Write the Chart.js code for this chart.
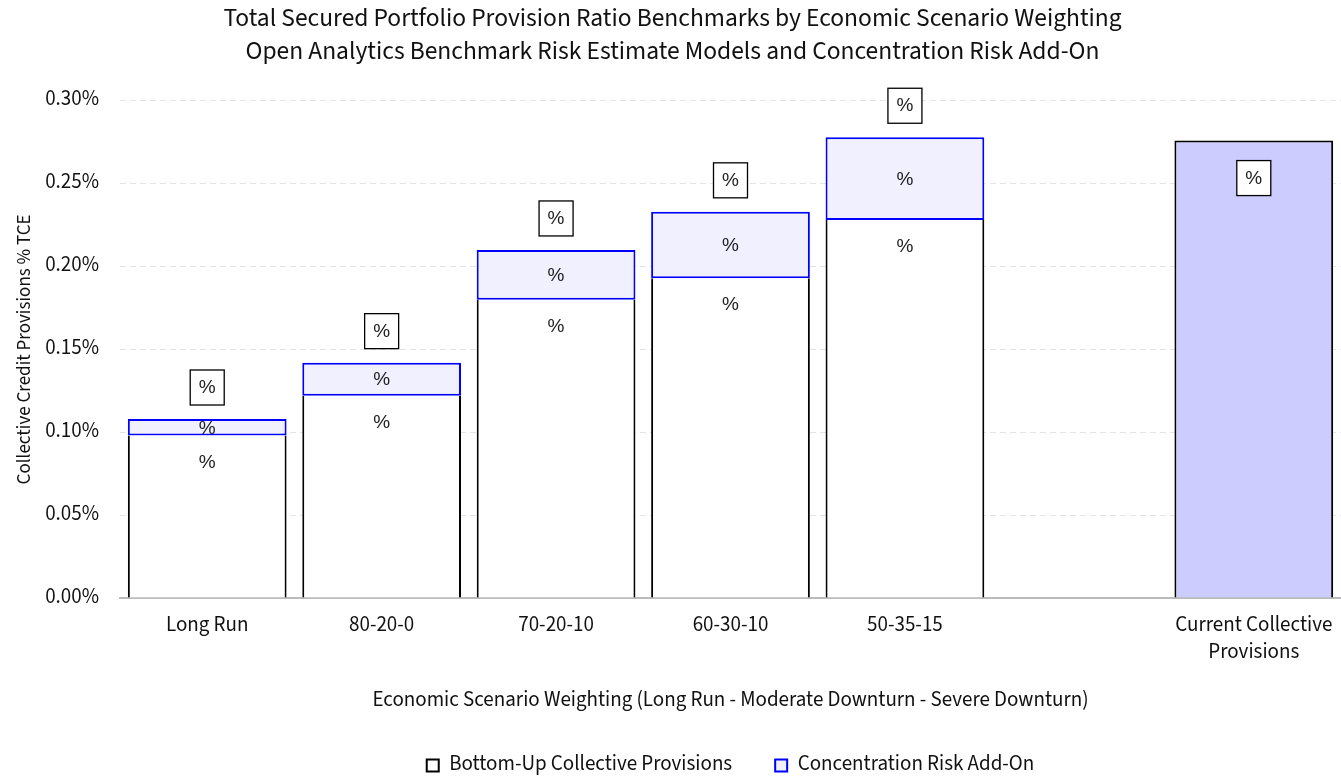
<!DOCTYPE html>
<html lang="en">
<head>
  <meta charset="UTF-8">
  <title>Provision Ratio Benchmarks</title>
  <script src="https://cdn.jsdelivr.net/npm/chart.js"></script>
  <style>
    html, body { margin: 0; padding: 0; background: #fff; }
    #wrap { width: 1341px; height: 778px; }
  </style>
</head>
<body>
  <div id="wrap"><canvas id="provisionChart"></canvas></div>
  <script>
    // Scenario weightings plus a spacer before the current provisions bar
    const categories = ['Long Run', '80-20-0', '70-20-10', '60-30-10', '50-35-15', '', ['Current Collective', 'Provisions']];
    // Provision ratios, in percent of TCE
    const bottomUp = [0.098, 0.122, 0.180, 0.193, 0.228, null, null];
    const addOn = [0.010, 0.020, 0.030, 0.040, 0.050, null, null];
    const current = [null, null, null, null, null, null, 0.276];
    const yTicks = [0, 0.05, 0.10, 0.15, 0.20, 0.25, 0.30];
    const segmentLabel = '%';
    const totalLabel = '%';

    const FONT = "'Source Sans Pro', 'Source Sans 3', Lato, sans-serif";
    const LABEL_FONT = "19px 'Liberation Sans', Arial, sans-serif";

    // Draws the "%" labels inside segments and the boxed totals
    const barLabels = {
      id: 'barLabels',
      afterDatasetsDraw(chart) {
        const ctx = chart.ctx;
        const base = chart.getDatasetMeta(0).data;
        const top = chart.getDatasetMeta(1).data;
        const cur = chart.getDatasetMeta(2).data;
        ctx.save();
        ctx.font = LABEL_FONT;
        ctx.textAlign = 'center';
        ctx.textBaseline = 'middle';
        ctx.fillStyle = '#222';

        const box = (x, y) => {
          ctx.fillStyle = '#fff';
          ctx.fillRect(x - 17, y - 17, 34, 35);
          ctx.strokeStyle = '#000';
          ctx.lineWidth = 1.3;
          ctx.strokeRect(x - 17, y - 17, 34, 35);
          ctx.fillStyle = '#222';
          ctx.fillText(totalLabel, x, y + 1);
        };

        categories.forEach((c, i) => {
          if (bottomUp[i] != null) {
            const b = base[i];
            ctx.fillText(segmentLabel, b.x, b.y + 27);
            const t = top[i];
            ctx.fillText(segmentLabel, t.x, (t.y + t.base) / 2 + 1);
            box(t.x, t.y - 32);
          }
          if (current[i] != null) {
            const k = cur[i];
            box(k.x, k.y + 37);
          }
        });
        ctx.restore();
      }
    };

    const ctx = document.getElementById('provisionChart').getContext('2d');
    new Chart(ctx, {
      type: 'bar',
      data: {
        labels: categories,
        datasets: [
          {
            label: 'Bottom-Up Collective Provisions',
            data: bottomUp,
            backgroundColor: '#ffffff',
            borderColor: '#000000',
            borderWidth: { top: 0, left: 2, right: 2, bottom: 0 },
            borderSkipped: false
          },
          {
            label: 'Concentration Risk Add-On',
            data: addOn,
            backgroundColor: '#f0f0ff',
            borderColor: '#0000ff',
            borderWidth: 2,
            borderSkipped: false
          },
          {
            label: 'Current Collective Provisions',
            data: current,
            backgroundColor: '#ccccff',
            borderColor: '#000000',
            borderWidth: 2,
            borderSkipped: 'start'
          }
        ]
      },
      options: {
        responsive: true,
        maintainAspectRatio: false,
        animation: false,
        layout: { padding: { left: 4, right: 0, top: 0, bottom: -8 } },
        datasets: {
          bar: { categoryPercentage: 1, barPercentage: 0.91, grouped: false }
        },
        plugins: {
          title: {
            display: true,
            text: ['Total Secured Portfolio Provision Ratio Benchmarks by Economic Scenario Weighting',
                   'Open Analytics Benchmark Risk Estimate Models and Concentration Risk Add-On'],
            color: '#111',
            font: { family: FONT, size: 25.5, weight: 'normal', lineHeight: 1.29 },
            padding: { top: 4, bottom: 31 }
          },
          legend: {
            position: 'bottom',
            fullSize: false,
            labels: {
              filter: item => item.datasetIndex < 2,
              generateLabels: chart => Chart.defaults.plugins.legend.labels.generateLabels(chart)
                .map(item => Object.assign(item, { lineWidth: 2 })),
              boxWidth: 12,
              boxHeight: 12,
              padding: 43,
              color: '#111',
              font: { family: FONT, size: 21 }
            }
          },
          tooltip: { enabled: false }
        },
        scales: {
          x: {
            stacked: true,
            afterFit: axis => {
              axis.height = 114;
              axis.paddingLeft = 0;
              axis.paddingRight = 0;
            },
            grid: { display: false, drawTicks: false },
            border: { color: '#bbbbbb', width: 2 },
            ticks: {
              color: '#111',
              padding: 15,
              maxRotation: 0,
              font: { family: FONT, size: 21, lineHeight: 1.29 }
            },
            title: {
              display: true,
              text: 'Economic Scenario Weighting (Long Run - Moderate Downturn - Severe Downturn)',
              color: '#111',
              font: { family: FONT, size: 21, lineHeight: 1 },
              padding: { top: 0, bottom: 0 }
            }
          },
          y: {
            stacked: true,
            min: 0,
            max: 0.30,
            afterFit: axis => { axis.width = 116; },
            afterBuildTicks: axis => { axis.ticks = yTicks.map(v => ({ value: v })); },
            grid: { color: '#e4e4e4', lineWidth: 1, drawTicks: false },
            border: { display: false, dash: [6, 4] },
            ticks: {
              color: '#111',
              padding: 21,
              font: { family: FONT, size: 21 },
              callback: v => v.toFixed(2) + '%'
            },
            title: {
              display: true,
              text: 'Collective Credit Provisions % TCE',
              color: '#111',
              font: { family: FONT, size: 19 },
              padding: { top: 10, bottom: 8 }
            }
          }
        }
      },
      plugins: [barLabels]
    });
  </script>
</body>
</html>
